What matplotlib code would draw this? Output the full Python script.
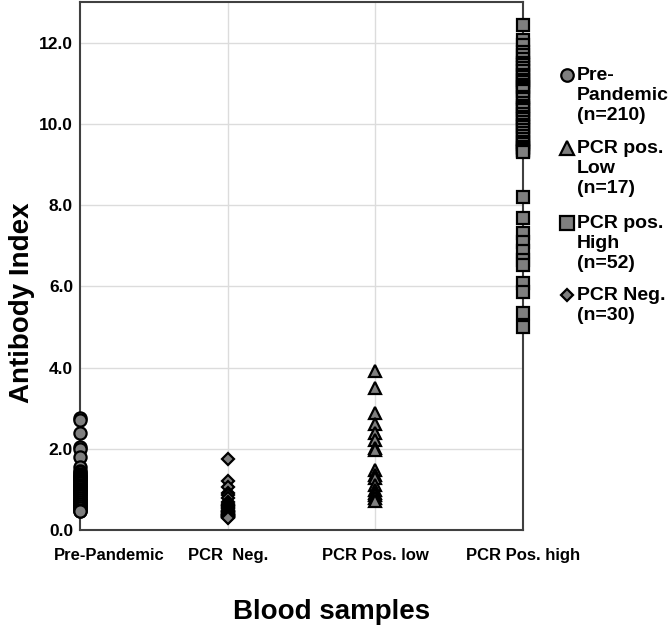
import matplotlib
matplotlib.use("Agg")
import matplotlib.pyplot as plt
from matplotlib.lines import Line2D

plt.rcParams['font.family'] = ['Liberation Sans', 'DejaVu Sans']
plt.rcParams['font.weight'] = 'bold'

# ---------------------------------------------------------------
# data
categories = ['Pre-Pandemic', 'PCR  Neg.', 'PCR Pos. low', 'PCR Pos. high']

pre_pandemic = [2.75, 2.70, 2.40, 2.05, 2.00, 1.80, 1.55, 1.45, 1.42, 1.38,
                1.35, 1.32, 1.30, 1.28, 1.25, 1.22, 1.20, 1.18, 1.15, 1.12,
                1.10, 1.08, 1.05, 1.02, 1.00, 0.98, 0.95, 0.93, 0.90, 0.88,
                0.85, 0.83, 0.80, 0.78, 0.75, 0.73, 0.70, 0.68, 0.65, 0.63,
                0.60, 0.58, 0.55, 0.53, 0.50, 0.48, 0.46]

pcr_neg = [1.75, 1.20, 1.05, 0.90, 0.85, 0.78, 0.70, 0.65, 0.62, 0.60,
           0.58, 0.55, 0.53, 0.50, 0.48, 0.47, 0.45, 0.44, 0.42, 0.40,
           0.40, 0.38, 0.37, 0.36, 0.35, 0.34, 0.33, 0.32, 0.31, 0.30]

pcr_pos_low = [3.92, 3.49, 2.89, 2.60, 2.38, 2.22, 2.03, 1.98, 1.48, 1.35,
               1.27, 1.11, 0.99, 0.92, 0.86, 0.78, 0.72]

pcr_pos_high = [12.44, 12.07, 11.95, 11.78, 11.70, 11.59, 11.51, 11.45, 11.38, 11.31,
                11.21, 11.15, 11.08, 11.02, 10.95, 10.90, 10.85, 10.80, 10.67, 10.60,
                10.52, 10.45, 10.40, 10.34, 10.24, 10.18, 10.12, 10.05, 9.98, 9.93,
                9.85, 9.78, 9.69, 9.62, 9.56, 9.50, 9.44, 9.40, 9.36, 9.33,
                9.30, 8.21, 7.68, 7.31, 7.10, 6.86, 6.65, 6.53, 6.08, 5.87,
                5.34, 5.01]

legend_labels = ['Pre-\nPandemic\n(n=210)', 'PCR pos.\nLow\n(n=17)',
                 'PCR pos.\nHigh\n(n=52)', 'PCR Neg.\n(n=30)']

# ---------------------------------------------------------------
W, H = 672, 633
fig = plt.figure(figsize=(W / 100, H / 100), dpi=100)
ax = fig.add_axes([80 / W, 1 - 530 / H, 443 / W, 528 / H])

face = '#7f7f7f'
series = [
    (1, pre_pandemic, 'o', 8.8),
    (2, pcr_neg, 'D', 6.0),
    (3, pcr_pos_low, '^', 9.0),
    (4, pcr_pos_high, 's', 8.8),
]
for xpos, vals, mk, ms in series:
    ax.plot([xpos] * len(vals), vals, linestyle='none', marker=mk, markersize=ms,
            markerfacecolor=face, markeredgecolor='black', markeredgewidth=1.6,
            clip_on=False, zorder=3)

ax.set_xlim(1, 4)
ax.set_ylim(0, 13)
ax.set_yticks(range(0, 13, 2))
ax.set_yticklabels([f'{v:.1f}' for v in range(0, 13, 2)], fontsize=12.5, fontweight='bold')
ax.tick_params(axis='y', length=0, pad=5)

# first label sits a bit inside the axis, as in the original
ax.set_xticks([1.2, 2, 3, 4])
ax.set_xticklabels(categories, fontsize=12, fontweight='bold')
ax.tick_params(axis='x', length=0, pad=13)

ax.grid(axis='y', color='#dcdcdc', linewidth=1.0, zorder=0)
for xv in [2, 3]:
    ax.axvline(xv, color='#dcdcdc', linewidth=1.0, zorder=0)
ax.set_axisbelow(True)

for sp in ax.spines.values():
    sp.set_color('#404040')
    sp.set_linewidth(1.5)

ax.set_ylabel('Antibody Index', fontsize=20, fontweight='bold', va='center')
ax.yaxis.set_label_coords(-0.131, 0.43)
ax.set_xlabel('Blood samples', fontsize=20, fontweight='bold', va='center')
ax.xaxis.set_label_coords(0.567, -0.155)

# legend: marker next to the first line of each label
leg_markers = [('o', 9.0), ('^', 10.0), ('s', 9.5), ('D', 6.2)]
first_line_y = [75, 148, 223, 295]
for (mk, ms), lab, y in zip(leg_markers, legend_labels, first_line_y):
    fig.add_artist(Line2D([567 / W], [1 - y / H], transform=fig.transFigure,
                          marker=mk, markersize=ms, markerfacecolor=face,
                          markeredgecolor='black', markeredgewidth=1.6,
                          linestyle='none'))
    fig.text(577 / W, 1 - (y - 8) / H, lab, fontsize=14, fontweight='bold',
             va='top', ha='left', linespacing=1.22)

fig.savefig('out.png', dpi=100)
